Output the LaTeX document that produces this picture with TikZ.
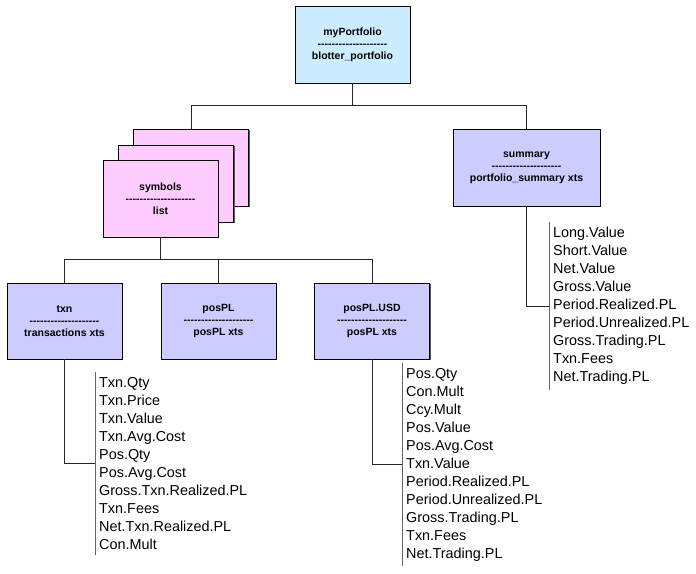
\documentclass[tikz,border=0pt]{standalone}
\usepackage{fontspec}
\setmainfont{Liberation Sans}
\usetikzlibrary{shadows}

\definecolor{rootblue}{HTML}{CCECFF}
\definecolor{listpink}{HTML}{FFCCFF}
\definecolor{xtsblue}{HTML}{CCCCFF}

% row of hyphens under the object name
\newcommand{\dashrow}{\foreach \k in {1,...,20}{-\kern0pt}}

\tikzset{
  objbox/.style={draw=black, line width=0.6pt, minimum width=115pt, minimum height=77pt,
    inner sep=0pt, align=center, font=\fontsize{10.5}{12}\selectfont\bfseries,
    drop shadow={shadow xshift=1.3pt, shadow yshift=-1.3pt, fill=black!65, opacity=1}},
  fieldlist/.style={anchor=north west, align=left, inner xsep=4pt, inner ysep=5pt,
    font=\fontsize{14.4}{18}\selectfont},
  link/.style={draw=black!85, line width=0.8pt},
  bar/.style={draw=black!60, line width=0.8pt}
}

\begin{document}
\begin{tikzpicture}[x=1pt,y=-1pt]

        \useasboundingbox (0,0) rectangle (696,573);

        %Boxes
        %Top layer
        \node[objbox, fill=rootblue] (root) at (352.5,44.5) {myPortfolio\\\dashrow\\blotter\_portfolio};

        %Layer 1
        %left (stack of lists)
        \node[objbox, fill=listpink] (symback) at (191,167.5) {};
        \node[objbox, fill=listpink] (symmid) at (176,183.5) {};
        \node[objbox, fill=listpink] (symbols) at (160.5,198.5) {symbols\\\dashrow\\list};
        %right
        \node[objbox, fill=xtsblue, minimum width=147pt] (summary) at (526.5,167.5) {summary\\\dashrow\\portfolio\_summary xts};

        %Layer 2
        \node[objbox, fill=xtsblue, minimum height=76pt] (txn) at (64.5,321) {txn\\\dashrow\\transactions xts};
        \node[objbox, fill=xtsblue, minimum height=76pt] (pospl) at (218.5,321) {posPL\\\dashrow\\posPL xts};
        \node[objbox, fill=xtsblue, minimum height=76pt] (posplusd) at (372,321) {posPL.USD\\\dashrow\\posPL xts};

        %Column lists
        \node[fieldlist] (summlist) at (549,222) {Long.Value\\Short.Value\\Net.Value\\Gross.Value\\Period.Realized.PL\\Period.Unrealized.PL\\Gross.Trading.PL\\Txn.Fees\\Net.Trading.PL};
        \node[fieldlist] (txnlist) at (95,372) {Txn.Qty\\Txn.Price\\Txn.Value\\Txn.Avg.Cost\\Pos.Qty\\Pos.Avg.Cost\\Gross.Txn.Realized.PL\\Txn.Fees\\Net.Txn.Realized.PL\\Con.Mult};
        \node[fieldlist] (usdlist) at (402,363) {Pos.Qty\\Con.Mult\\Ccy.Mult\\Pos.Value\\Pos.Avg.Cost\\Txn.Value\\Period.Realized.PL\\Period.Unrealized.PL\\Gross.Trading.PL\\Txn.Fees\\Net.Trading.PL};

        %Edges
        %top to layer 1
        \draw[link] (root.south) -- ++(0,22) coordinate (rootsplit);
        \draw[link] (rootsplit) -| (symback.north);
        \draw[link] (rootsplit) -| (summary.north);

        %layer 1 to layer 2
        \draw[link] (symbols.south) -- ++(0,22) coordinate (symsplit);
        \draw[link] (symsplit) -| (txn.north);
        \draw[link] (symsplit) -| (pospl.north);
        \draw[link] (symsplit) -| (posplusd.north);

        %boxes to lists
        \draw[link] (summary.south) |- (summlist.west);
        \draw[link] (txn.south) |- (txnlist.west);
        \draw[link] (posplusd.south) |- (usdlist.west);

        \draw[bar] (summlist.north west) -- (summlist.south west);
        \draw[bar] (txnlist.north west) -- (txnlist.south west);
        \draw[bar] (usdlist.north west) -- (usdlist.south west);

\end{tikzpicture}
\end{document}
